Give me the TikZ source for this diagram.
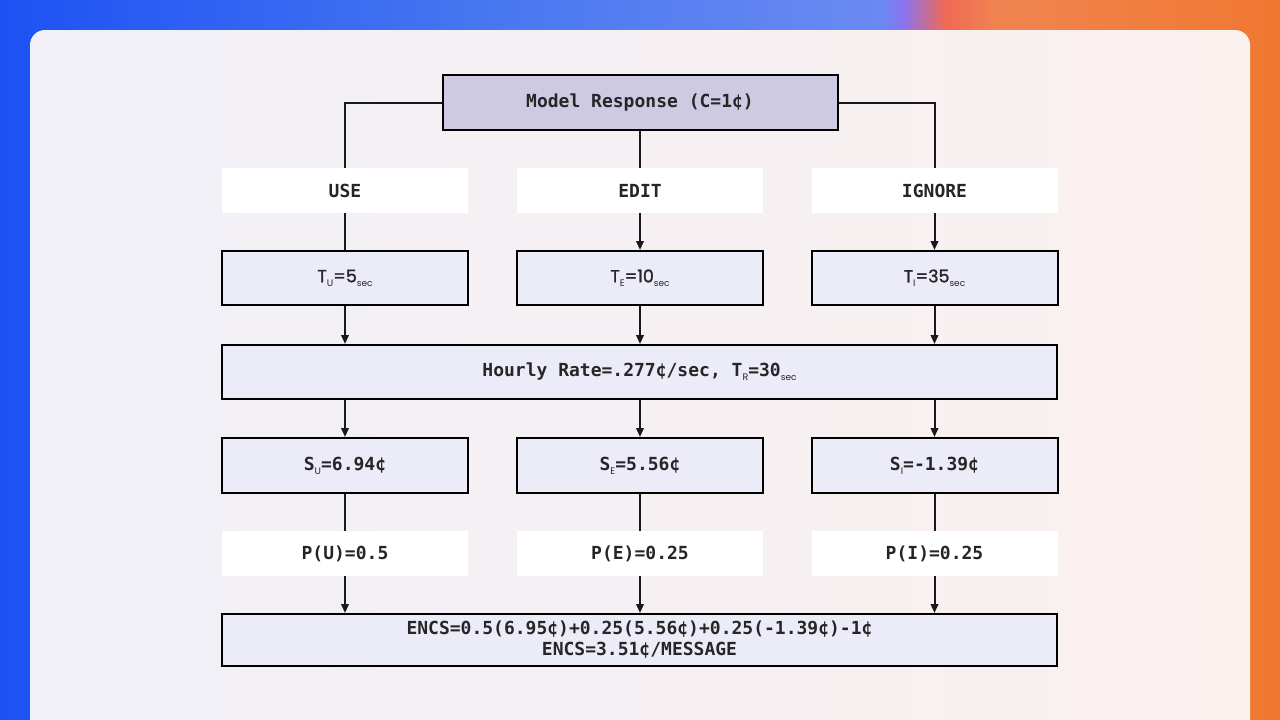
\documentclass[tikz,border=0pt]{standalone}
\usepackage{fontspec}
\usepackage{graphicx}
\usetikzlibrary{arrows.meta,positioning,calc}
\setmonofont{DejaVu Sans Mono}
\newfontfamily\popp{Poppins}[FakeBold=1.2]
\newfontfamily\poppsub{Poppins}
\newfontfamily\dmono{DejaVu Sans Mono}
\definecolor{bgA}{HTML}{1D52F4}
\definecolor{bgB}{HTML}{4A78F0}
\definecolor{bgC}{HTML}{6A8AF2}
\definecolor{bgD}{HTML}{8A72EE}
\definecolor{bgE}{HTML}{F06A56}
\definecolor{bgF}{HTML}{F08450}
\definecolor{bgG}{HTML}{F07830}
\definecolor{cardL}{HTML}{F1F0F8}
\definecolor{cardR}{HTML}{FAF0EE}
\definecolor{boxfill}{HTML}{ECECF8}
\definecolor{topfill}{HTML}{CFCAE4}
\pgfdeclarehorizontalshading{bgshade}{100bp}{color(0bp)=(bgA); color(25bp)=(bgA); color(45bp)=(bgB); color(59.4bp)=(bgC); color(60.3bp)=(bgD); color(61.9bp)=(bgE); color(64bp)=(bgF); color(75bp)=(bgG); color(100bp)=(bgG)}
\newcommand\sbx[2][9.5]{\raisebox{-4pt}{\poppsub\mdseries\fontsize{#1}{#1}\selectfont #2}}
\tikzset{
  box/.style={draw=black, line width=2pt, fill=boxfill, minimum width=246pt, minimum height=54pt, inner sep=0pt, text=black!85},
  lbl/.style={fill=white, minimum width=246pt, minimum height=45pt, inner sep=0pt, text=black!85},
  conn/.style={line width=2pt, black!90},
  arr/.style={conn, -{Triangle[length=9pt,width=7.5pt]}},
  mfont/.style={font=\dmono\bfseries\fontsize{18}{21}\selectfont},
}
\begin{document}
\begin{tikzpicture}[x=1pt,y=-1pt]
\useasboundingbox (0,0) rectangle (1280,720);
\shade[shading=bgshade] (0,0) rectangle (1280,720);
\begin{scope}
\clip (0,0) rectangle (1280,720);
\shade[left color=cardL, right color=cardR, rounded corners=15pt] (30,30) rectangle (1250,740);
\end{scope}
% top
\node[box, fill=topfill, minimum width=395pt, minimum height=55pt, mfont] (mr) at (640,102.5) {Model Response (C=1¢)};
% labels
\node[lbl, mfont] (use) at (345,190.5) {USE};
\node[lbl, mfont] (edit) at (640,190.5) {EDIT};
\node[lbl, mfont] (ign) at (934.5,190.5) {IGNORE};
% T boxes
\node[box] (tu) at (345,278) {\popp\fontsize{17.5}{20}\selectfont T\sbx{U}=5\sbx[9]{sec}};
\node[box] (te) at (640,278) {\popp\fontsize{17.5}{20}\selectfont T\sbx{E}=10\sbx[9]{sec}};
\node[box] (ti) at (934.5,278) {\popp\fontsize{17.5}{20}\selectfont T\sbx{I}=35\sbx[9]{sec}};
% hourly
\node[box, minimum width=835pt, mfont] (hr) at (639.5,372) {Hourly Rate=.277¢/sec, T\sbx{R}=30\sbx[9]{sec}};
% S boxes
\node[box, minimum height=55pt, mfont] (su) at (345,465.5) {S\sbx{U}=6.94¢};
\node[box, minimum height=55pt, mfont] (se) at (640,465.5) {S\sbx{E}=5.56¢};
\node[box, minimum height=55pt, mfont] (si) at (934.5,465.5) {S\sbx{I}=-1.39¢};
% P boxes
\node[lbl, mfont] (pu) at (345,553.5) {P(U)=0.5};
\node[lbl, mfont] (pe) at (640,553.5) {P(E)=0.25};
\node[lbl, mfont] (pi) at (934.5,553.5) {P(I)=0.25};
% ENCS
\node[box, minimum width=835pt, minimum height=52pt, align=center, font=\dmono\bfseries\fontsize{18}{21}\selectfont] (encs) at (639.5,640) {ENCS=0.5(6.95¢)+0.25(5.56¢)+0.25(-1.39¢)-1¢\\ENCS=3.51¢/MESSAGE};
% connectors
\draw[conn] (mr.west) -| (use.north);
\draw[conn] (mr.east) -| (ign.north);
\draw[conn] (mr.south) -- (edit.north);
\draw[conn] (use.south) -- (tu.north);
\draw[arr] (edit.south) -- (te.north);
\draw[arr] (ign.south) -- (ti.north);
\draw[arr] (tu.south) -- (tu.south |- hr.north);
\draw[arr] (te.south) -- (te.south |- hr.north);
\draw[arr] (ti.south) -- (ti.south |- hr.north);
\draw[arr] (su.north |- hr.south) -- (su.north);
\draw[arr] (se.north |- hr.south) -- (se.north);
\draw[arr] (si.north |- hr.south) -- (si.north);
\draw[conn] (su.south) -- (pu.north);
\draw[conn] (se.south) -- (pe.north);
\draw[conn] (si.south) -- (pi.north);
\draw[arr] (pu.south) -- (pu.south |- encs.north);
\draw[arr] (pe.south) -- (pe.south |- encs.north);
\draw[arr] (pi.south) -- (pi.south |- encs.north);
\end{tikzpicture}
\end{document}
